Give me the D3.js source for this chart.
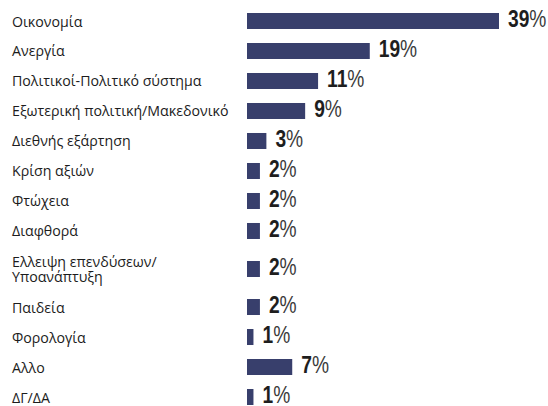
<!DOCTYPE html>
<html><head><meta charset="utf-8">
<script src="https://cdn.jsdelivr.net/npm/d3@7"></script>
<style>html,body{margin:0;padding:0;background:#fff;}</style>
</head><body>
<svg id="chart" width="548" height="406"></svg>
<script>
const categories = [
  ["Οικονομία"],
  ["Ανεργία"],
  ["Πολιτικοί-Πολιτικό σύστημα"],
  ["Εξωτερική πολιτική/Μακεδονικό"],
  ["Διεθνής εξάρτηση"],
  ["Κρίση αξιών"],
  ["Φτώχεια"],
  ["Διαφθορά"],
  ["Ελλειψη επενδύσεων/", "Υποανάπτυξη"],
  ["Παιδεία"],
  ["Φορολογία"],
  ["Αλλο"],
  ["ΔΓ/ΔΑ"]
];
const values = [39, 19, 11, 9, 3, 2, 2, 2, 2, 2, 1, 7, 1];

const svg = d3.select("#chart");

// cumulative row positions (extra room for multi-line labels)
let acc = 0;
const centers = categories.map(lines => {
  const extra = (lines.length - 1) * 0.267;
  acc += extra;
  const c = acc;
  acc += 1 + extra;
  return c;
});
const y = d3.scaleLinear().domain([0, 12.534]).range([21, 397]);
const x = d3.scaleLinear().domain([0, 39]).range([247, 499]);

const rows = svg.selectAll("g.row").data(values).enter().append("g").attr("class","row");

rows.append("rect")
  .attr("x", x(0))
  .attr("y", (d,i) => y(centers[i]) - 8)
  .attr("width", d => x(d) - x(0))
  .attr("height", 16)
  .attr("fill", "#383f6c");

const lab = rows.append("text")
  .attr("x", 12)
  .attr("y", (d,i) => y(centers[i]) + 5.5 - (categories[i].length - 1) * 7.75)
  .attr("font-family", "'Open Sans', 'Noto Sans', sans-serif")
  .attr("font-size", 14.2)
  .attr("fill", "#1c1c1c");
lab.selectAll("tspan").data((d,i) => categories[i]).enter().append("tspan")
  .attr("x", 12)
  .attr("dy", (d,j) => j === 0 ? 0 : 15.5)
  .text(d => d);

const val = rows.append("text")
  .attr("transform", (d,i) => `translate(${x(d) + 9},${y(centers[i]) + 6}) scale(0.8,1)`)
  .attr("font-family", "'Liberation Sans', Arial, sans-serif")
  .attr("font-size", 24)
  .attr("fill", "#1e1e1e");
val.append("tspan").attr("font-weight", "bold").text(d => d);
val.append("tspan").attr("font-weight", "normal").attr("fill","#3a3a3a").text("%");
</script>
</body></html>
